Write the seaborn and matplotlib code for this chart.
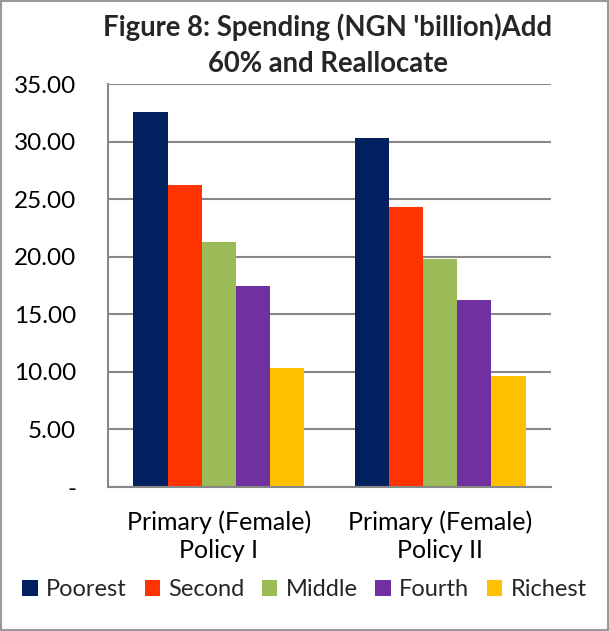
import matplotlib
matplotlib.use("Agg")
import matplotlib.pyplot as plt
import seaborn as sns
import pandas as pd
from matplotlib.ticker import FuncFormatter, MultipleLocator
from matplotlib.patches import Patch

categories = ["Primary (Female)\nPolicy I", "Primary (Female)\nPolicy II"]
quintiles = ["Poorest", "Second", "Middle", "Fourth", "Richest"]
poorest = [32.6, 30.3]
second = [26.2, 24.3]
middle = [21.3, 19.8]
fourth = [17.5, 16.2]
richest = [10.3, 9.6]
colors = ["#002060", "#FF3300", "#9BBB59", "#7030A0", "#FFC000"]

series = [poorest, second, middle, fourth, richest]
rows = []
for q, vals in zip(quintiles, series):
    for c, v in zip(categories, vals):
        rows.append({"cat": c, "quintile": q, "value": v})
df = pd.DataFrame(rows)

sns.set_theme(style="white")
plt.rcParams['font.family'] = ['Lato', 'DejaVu Sans']

fig = plt.figure(figsize=(6.09, 6.31), dpi=100)
ax = fig.add_axes([108/609, 1-487/631, 443/609, 403/631])

sns.barplot(data=df, x="cat", y="value", hue="quintile", hue_order=quintiles,
            palette=colors, width=0.77, ax=ax, saturation=1, legend=False,
            edgecolor="none", linewidth=0)

ax.set_ylim(0, 35)
ax.yaxis.set_major_locator(MultipleLocator(5))
ax.yaxis.set_major_formatter(FuncFormatter(lambda v, p: "-" if abs(v) < 1e-9 else f"{v:.2f}"))
ax.grid(axis="y", color="#888888", linewidth=1.5)
ax.set_axisbelow(True)
for s in ["top", "right"]:
    ax.spines[s].set_visible(False)
for s in ["left", "bottom"]:
    ax.spines[s].set_color("#888888")
    ax.spines[s].set_linewidth(1.5)
ax.set_xlabel("")
ax.set_ylabel("")
ax.tick_params(axis="y", labelsize=17.5, length=0, colors="black", pad=23)
ax.tick_params(axis="x", labelsize=18, length=0, colors="black", pad=17)
for t in ax.get_xticklabels():
    t.set_linespacing(1.25)

fig.text(0.538, 1 - 45/631, "Figure 8: Spending (NGN 'billion)Add\n60% and Reallocate",
         fontsize=19.8, fontweight="bold", ha="center", va="center", linespacing=1.5)

handles = [Patch(facecolor=c, edgecolor="none") for c in colors]
fig.legend(handles, quintiles, loc="center", bbox_to_anchor=(0.5, 1 - 590/631),
           ncol=5, frameon=False, fontsize=17, handlelength=0.65, handleheight=0.65,
           handletextpad=0.35, columnspacing=0.75, borderaxespad=0)

border = plt.Rectangle((0.002, 0.002), 0.996, 0.996, transform=fig.transFigure,
                       fill=False, edgecolor="#999999", linewidth=1.5)
fig.patches.append(border)

fig.savefig("out.png", dpi=100)
